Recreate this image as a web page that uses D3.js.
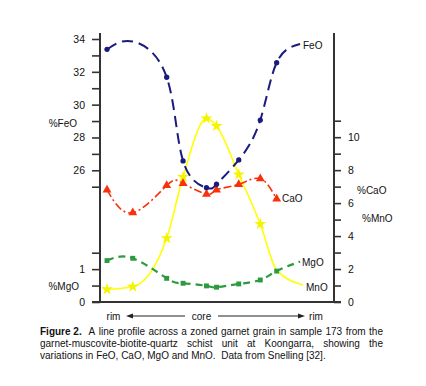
<!DOCTYPE html>
<html><head><meta charset="utf-8">
<script src="https://cdn.jsdelivr.net/npm/d3@7"></script>
<style>body{margin:0;background:#fff}svg{display:block}text{font-family:Arial,"Liberation Sans",sans-serif;fill:#111}</style>
</head><body>
<svg id="c" width="426" height="386"></svg>
<script>
// ---- data ----
const dist = [3, 14, 28.5, 35.5, 45.5, 49.8, 59.3, 68.5, 75.5]; // position along the profile
const feo  = [33.37, 33.85, 31.67, 26.57, 24.94, 25.15, 26.63, 29.06, 32.56];
const feoMarked = [true, false, true, true, true, true, true, true, true];
const cao  = [6.80, 5.42, 7.07, 7.20, 6.54, 6.80, 7.14, 7.48, 6.25];
const mgo  = [1.26, 1.33, 0.72, 0.57, 0.49, 0.45, 0.55, 0.67, 0.94];
const mno  = [0.77, 0.93, 3.87, 7.58, 11.14, 10.68, 7.74, 4.73, 1.94];
const mnoMarked = [true, true, true, true, true, true, true, true, false];
// the curves run on to their labels
const feoEnd = [85.5, 33.70];
const mgoEnd = [85.5, 1.23];
const mnoEnd = [86.8, 1.03];
const feoTicks = [25, 26, 27, 28, 29, 30, 31, 32, 33, 34];
const mgoTicks = [0, 0.5, 1, 1.5];
const rightTicks = [0, 1, 2, 3, 4, 5, 6, 7, 8, 9, 10, 11];
const captionLines = [
  [["Figure 2.", true], ["", false], ["A", false], ["line", false], ["profile", false], ["across", false], ["a", false], ["zoned", false], ["garnet", false], ["grain", false], ["in", false], ["sample", false], ["173", false], ["from", false], ["the", false]],
  "garnet-muscovite-biotite-quartz schist unit at Koongarra, showing the",
  "variations in FeO, CaO, MgO and MnO.  Data from Snelling [32]."
];

const svg = d3.select("#c");
const x = d3.scaleLinear().domain([0, 100]).range([100, 334]);
const yFe = d3.scaleLinear().domain([25, 34]).range([186.7, 39]);
const yMg = d3.scaleLinear().domain([0, 1.5]).range([302, 252.7]);
const yR = d3.scaleLinear().domain([0, 11]).range([302, 120.7]);

const axisCol = "#333";
function styleAxis(g) {
  g.select(".domain").remove();
  g.selectAll(".tick line").attr("stroke", axisCol).attr("stroke-width", 1.6);
  g.selectAll(".tick text").style("font-size", "10.5px").attr("fill", "#111");
}
svg.append("g").attr("transform", "translate(100,0)")
  .call(d3.axisLeft(yFe).tickValues(feoTicks).tickSize(8).tickPadding(7)
    .tickFormat(d => d % 2 === 0 ? d : "")).call(styleAxis);
svg.append("g").attr("transform", "translate(100,0)")
  .call(d3.axisLeft(yMg).tickValues(mgoTicks).tickSize(8).tickPadding(7)
    .tickFormat(d => Number.isInteger(d) ? d : "")).call(styleAxis);
svg.append("g").attr("transform", "translate(334,0)")
  .call(d3.axisRight(yR).tickValues(rightTicks).tickSize(7).tickPadding(7)
    .tickFormat(d => d % 2 === 0 ? d : "")).call(styleAxis);
svg.append("line").attr("x1", 100).attr("x2", 100).attr("y1", 33).attr("y2", 302)
  .attr("stroke", axisCol).attr("stroke-width", 2);
svg.append("line").attr("x1", 334).attr("x2", 334).attr("y1", 33).attr("y2", 302)
  .attr("stroke", axisCol).attr("stroke-width", 2);
svg.append("line").attr("x1", 92).attr("x2", 341).attr("y1", 302).attr("y2", 302)
  .attr("stroke", axisCol).attr("stroke-width", 2);

function label(txt, xx, yy, anchor) {
  svg.append("text").attr("x", xx).attr("y", yy).attr("dy", "0.35em")
    .attr("text-anchor", anchor || "start").style("font-size", "10px").text(txt);
}
label("%FeO", 77, 123, "end");
label("%MgO", 79, 286, "end");
label("%CaO", 357, 190);
label("%MnO", 362, 218);

function series(vals, yS, end, marked) {
  const all = dist.map((d, i) => [d, vals[i], marked ? marked[i] : true]).filter(p => p[1] != null);
  const pts = all.filter(p => p[2]);
  const linePts = end ? all.concat([end]) : all;
  return {pts, linePts, yS};
}
const sFe = series(feo, yFe, feoEnd, feoMarked);
const sCa = series(cao, yR, null);
const sMg = series(mgo, yMg, mgoEnd);
const sMn = series(mno, yR, mnoEnd, mnoMarked);

function drawLine(s, color, width, dash, curve) {
  const gen = d3.line().x(p => x(p[0])).y(p => s.yS(p[1])).curve(curve || d3.curveNatural);
  svg.append("path").attr("d", gen(s.linePts)).attr("fill", "none")
    .attr("stroke", color).attr("stroke-width", width)
    .attr("stroke-dasharray", dash || null);
}
const cFe = "#1b1b7d", cCa = "#f8300c", cMg = "#2c9a3e", cMn = "#ffff00";
drawLine(sMn, cMn, 1.6, null, d3.curveMonotoneX);
drawLine(sMg, cMg, 2.2, "7,5");
drawLine(sCa, cCa, 1.6, "8,3,2,3");
drawLine(sFe, cFe, 2, "11,6");

function drawMarks(s, type, size, color) {
  svg.append("g").selectAll("path").data(s.pts).join("path")
    .attr("transform", p => `translate(${x(p[0])},${s.yS(p[1])})`)
    .attr("d", d3.symbol().type(type).size(size)).attr("fill", color);
}
drawMarks(sMn, d3.symbolStar, 45, "#f4f400");
drawMarks(sMg, d3.symbolSquare, 24, cMg);
drawMarks(sCa, d3.symbolTriangle, 34, cCa);
drawMarks(sFe, d3.symbolCircle, 22, cFe);

label("FeO", 303, 45);
label("CaO", 282, 198.5);
label("MgO", 302, 262);
label("MnO", 306, 287);

// rim - core - rim
const yA = 316;
svg.append("text").attr("x", 113.5).attr("y", yA).attr("dy", "0.35em").attr("text-anchor", "middle").style("font-size", "10px").text("rim");
svg.append("text").attr("x", 201.5).attr("y", yA).attr("dy", "0.35em").attr("text-anchor", "middle").style("font-size", "10px").text("core");
svg.append("text").attr("x", 316).attr("y", yA).attr("dy", "0.35em").attr("text-anchor", "middle").style("font-size", "10px").text("rim");
svg.append("line").attr("x1", 185).attr("x2", 131).attr("y1", yA).attr("y2", yA).attr("stroke", "#222").attr("stroke-width", 1.2);
svg.append("path").attr("d", `M126,${yA}L133,${yA-2.5}L133,${yA+2.5}Z`).attr("fill", "#222");
svg.append("line").attr("x1", 218).attr("x2", 300).attr("y1", yA).attr("y2", yA).attr("stroke", "#222").attr("stroke-width", 1.2);
svg.append("path").attr("d", `M305,${yA}L298,${yA-2.5}L298,${yA+2.5}Z`).attr("fill", "#222");

// caption
const capX0 = 40, capX1 = 383, capFont = 10, capY = [334.5, 346.5, 358.5];
function justify(words, yy) {
  const g = svg.append("g");
  const nodes = words.map(([w, b]) => g.append("text").attr("y", yy)
    .style("font-size", capFont + "px").style("font-weight", b ? "bold" : "normal").text(w));
  const widths = nodes.map(n => n.node().getComputedTextLength());
  const gap = (capX1 - capX0 - d3.sum(widths)) / (words.length - 1);
  let cx = capX0;
  nodes.forEach((n, i) => { n.attr("x", cx); cx += widths[i] + gap; });
}
justify(captionLines[0], capY[0]);
justify(captionLines[1].split(" ").map(w => [w, false]), capY[1]);
svg.append("text").attr("x", capX0).attr("y", capY[2]).style("font-size", capFont + "px")
  .attr("xml:space", "preserve").style("white-space", "pre").text(captionLines[2]);
</script>
</body></html>
